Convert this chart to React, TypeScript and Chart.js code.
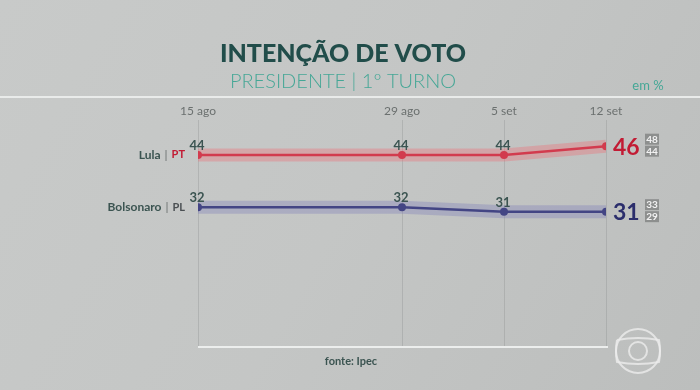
import React, { useEffect, useRef } from "react";
import { Chart, registerables } from "chart.js";

Chart.register(...registerables);

const dateLabels = ["15 ago", "29 ago", "5 set", "12 set"];
const dayOffsets = [0, 14, 21, 28];
const lulaValues = [44, 44, 44, 46];
const bolsonaroValues = [32, 32, 31, 31];
const lulaRange = [48, 44];
const bolsonaroRange = [33, 29];
const candidateNames = ["Lula", "Bolsonaro"];
const partyNames = ["PT", "PL"];

const LULA = "#c21b34";
const BOLSO = "#2b2e6c";
const TEAL_DARK = "#214d4a";
const TEAL = "#45a796";
const LABEL = "#3b5451";

const toPoints = (vals: number[]) => vals.map((v, i) => ({ x: dayOffsets[i], y: v }));

const decorPlugin = {
  id: "decor",
  beforeDraw(chart: any) {
    const { ctx, width, height } = chart;
    ctx.save();
    const g = ctx.createLinearGradient(0, 0, width, height);
    g.addColorStop(0, "#c8cac9");
    g.addColorStop(0.5, "#c4c6c5");
    g.addColorStop(1, "#bcbebd");
    ctx.fillStyle = g;
    ctx.fillRect(0, 0, width, height);
    // top separator line
    ctx.fillStyle = "#e9ebea";
    ctx.fillRect(0, 96, width, 2);
    // title
    ctx.textAlign = "center";
    ctx.textBaseline = "middle";
    ctx.fillStyle = TEAL_DARK;
    ctx.font = '900 25px "Lato", sans-serif';
    ctx.fillText("INTENÇÃO DE VOTO", 343, 54);
    ctx.fillStyle = TEAL;
    ctx.font = '300 20px "Lato", sans-serif';
    ctx.fillText("PRESIDENTE | 1º TURNO", 343, 82);
    ctx.font = '13px "Lato", sans-serif';
    ctx.fillText("em %", 648, 86);
    ctx.restore();
  },
  afterDatasetsDraw(chart: any) {
    const { ctx, chartArea } = chart;
    const xs = chart.scales.x;
    ctx.save();
    // bottom axis line
    ctx.fillStyle = "#eceeed";
    ctx.fillRect(chartArea.left, chartArea.bottom - 1, chartArea.right - chartArea.left + 2, 2);
    // date labels
    ctx.fillStyle = "#6b706f";
    ctx.font = '12px "Lato", sans-serif';
    ctx.textAlign = "center";
    ctx.textBaseline = "middle";
    dayOffsets.forEach((d, i) => {
      ctx.fillText(dateLabels[i], xs.getPixelForValue(d), 111);
    });
    // per candidate labels
    const series = [
      { meta: chart.getDatasetMeta(1), vals: lulaValues, color: LULA, range: lulaRange, partyColor: LULA },
      { meta: chart.getDatasetMeta(3), vals: bolsonaroValues, color: BOLSO, range: bolsonaroRange, partyColor: "#4a4f52" },
    ];
    series.forEach((s, k) => {
      const pts = s.meta.data;
      const y0 = pts[0].y;
      ctx.textBaseline = "middle";
      ctx.textAlign = "right";
      ctx.font = 'bold 11px "Lato", sans-serif';
      ctx.fillStyle = s.partyColor;
      const party = partyNames[k];
      let x = 185;
      ctx.fillText(party, x, y0);
      x -= ctx.measureText(party).width + 4;
      ctx.font = '12px "Lato", sans-serif';
      ctx.fillStyle = "#6b706f";
      ctx.fillText("|", x, y0);
      x -= ctx.measureText("|").width + 4;
      ctx.font = 'bold 12px "Lato", sans-serif';
      ctx.fillStyle = LABEL;
      ctx.fillText(candidateNames[k], x, y0);
      // value labels
      ctx.textAlign = "center";
      ctx.textBaseline = "alphabetic";
      ctx.font = 'bold 13px "Lato", sans-serif';
      ctx.fillStyle = LABEL;
      for (let i = 0; i < pts.length - 1; i++) {
        ctx.fillText(String(s.vals[i]), pts[i].x - 1, pts[i].y - 5);
      }
      const last = pts[pts.length - 1];
      ctx.textAlign = "left";
      ctx.textBaseline = "middle";
      ctx.font = 'bold 23px "Lato", sans-serif';
      ctx.fillStyle = s.color;
      ctx.fillText(String(s.vals[s.vals.length - 1]), last.x + 7, last.y + 1);
      // range boxes
      ctx.font = 'bold 10px "Lato", sans-serif';
      ctx.textAlign = "center";
      s.range.forEach((r, j) => {
        const by = last.y - 7 + j * 12;
        ctx.fillStyle = "#8d8f8e";
        ctx.fillRect(645, by - 5.5, 14, 11);
        ctx.fillStyle = "#f2f2f2";
        ctx.fillText(String(r), 652, by + 0.5);
      });
    });
    // fonte
    ctx.textAlign = "center";
    ctx.textBaseline = "middle";
    ctx.font = 'bold 11px "Lato", sans-serif';
    ctx.fillStyle = LABEL;
    ctx.fillText("fonte: Ipec", 351, 361);
    // globo logo watermark
    ctx.strokeStyle = "rgba(236,236,236,0.8)";
    ctx.lineWidth = 2;
    ctx.beginPath();
    ctx.arc(638, 351, 22, 0, Math.PI * 2);
    ctx.stroke();
    ctx.beginPath();
    ctx.moveTo(617, 340);
    ctx.quadraticCurveTo(638, 336, 659, 340);
    ctx.quadraticCurveTo(661, 351, 659, 362);
    ctx.quadraticCurveTo(638, 366, 617, 362);
    ctx.quadraticCurveTo(615, 351, 617, 340);
    ctx.stroke();
    ctx.beginPath();
    ctx.arc(638, 351, 9, 0, Math.PI * 2);
    ctx.stroke();
    ctx.restore();
  },
};

export default function App() {
  const ref = useRef<HTMLCanvasElement | null>(null);
  useEffect(() => {
    if (!ref.current) return;
    const chart = new Chart(ref.current, {
      type: "line",
      data: {
        datasets: [
          {
            data: toPoints(lulaValues),
            borderColor: "rgba(236,112,122,0.38)",
            borderWidth: 13,
            pointRadius: 0,
            borderCapStyle: "butt",
            borderJoinStyle: "round",
          },
          {
            data: toPoints(lulaValues),
            borderColor: LULA,
            backgroundColor: LULA,
            borderWidth: 2.5,
            pointRadius: 4,
            pointBackgroundColor: LULA,
            pointBorderWidth: 0,
          },
          {
            data: toPoints(bolsonaroValues),
            borderColor: "rgba(118,118,185,0.32)",
            borderWidth: 13,
            pointRadius: 0,
            borderCapStyle: "butt",
            borderJoinStyle: "round",
          },
          {
            data: toPoints(bolsonaroValues),
            borderColor: BOLSO,
            backgroundColor: BOLSO,
            borderWidth: 2.5,
            pointRadius: 4,
            pointBackgroundColor: BOLSO,
            pointBorderWidth: 0,
          },
        ],
      },
      options: {
        responsive: false,
        animation: false,
        devicePixelRatio: 1,
        layout: { padding: { left: 198, right: 94, top: 120, bottom: 43 } },
        plugins: { legend: { display: false }, tooltip: { enabled: false } },
        scales: {
          x: {
            type: "linear",
            min: dayOffsets[0],
            max: dayOffsets[dayOffsets.length - 1],
            afterBuildTicks: (scale: any) => {
              scale.ticks = dayOffsets.map((v) => ({ value: v }));
            },
            ticks: { display: false },
            grid: { color: "rgba(140,144,143,0.35)", lineWidth: 1, drawTicks: false },
            border: { display: false },
          },
          y: { display: false, min: 0, max: 52 },
        },
      },
      plugins: [decorPlugin],
    } as any);
    return () => chart.destroy();
  }, []);
  return (
    <div style={{ position: "fixed", left: 0, top: 0, width: 700, height: 390 }}>
      <canvas ref={ref} width={700} height={390} style={{ display: "block" }} />
    </div>
  );
}
